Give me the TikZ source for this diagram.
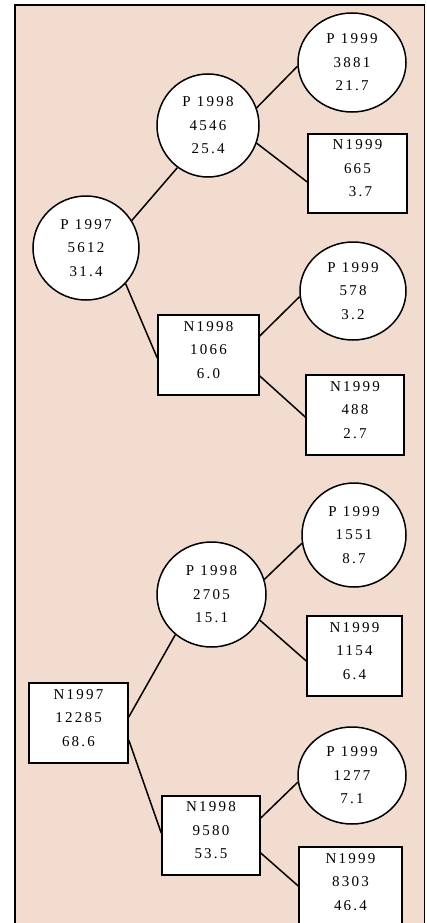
\documentclass[tikz,border=0pt]{standalone}
\usepackage{fontspec}
\setmainfont{Liberation Serif}[LetterSpace=15]
\usetikzlibrary{shapes.geometric,calc}
\definecolor{bg}{RGB}{242,219,207}
\tikzset{
  lbl/.style={font=\fontsize{15}{23.5}\selectfont, align=center, text=black, inner sep=0pt},
  oval/.style={ellipse, draw=black, line width=1.5pt, fill=white, inner sep=0pt, lbl},
  box/.style={rectangle, draw=black, line width=1.5pt, fill=white, inner sep=0pt},
  conn/.style={line width=1.5pt, draw=black}
}
\begin{document}
\begin{tikzpicture}[x=1pt,y=-1pt]
\useasboundingbox (0,0) rectangle (426,923);
\draw[fill=bg, line width=1.2pt] (15,5) rectangle (424.5,940);

% upper tree
\node[oval, minimum width=106, minimum height=104] (p97) at (86,248) {P 1997\\5612\\31.4};
\node[oval, minimum width=102, minimum height=103] (p98a) at (208,125.5) {P 1998\\4546\\25.4};
\node[oval, minimum width=108, minimum height=99] (p99a) at (352,62.5) {P 1999\\3881\\21.7};
\node[box, minimum width=99, minimum height=79] (n99a) at (357.5,173.5) {};
\node[lbl] (t99a) at ($(n99a)+(0,-5)$) {N1999\\665\\\ 3.7};
\node[box, minimum width=101, minimum height=80] (n98a) at (208.5,355) {};
\node[lbl] (t98a) at ($(n98a)+(0,-5)$) {N1998\\1066\\6.0};
\node[oval, minimum width=106, minimum height=98] (p99b) at (353,291) {P 1999\\578\\3.2};
\node[box, minimum width=98, minimum height=80] (n99b) at (355,415) {};
\node[lbl] (t99b) at ($(n99b)+(0,-5)$) {N1999\\488\\2.7};

% lower tree
\node[box, minimum width=99, minimum height=80] (n97) at (78.5,723) {};
\node[lbl] (t97) at ($(n97)+(0,-5)$) {N1997\\12285\\68.6};
\node[oval, minimum width=109, minimum height=105] (p98b) at (211.5,594.5) {P 1998\\2705\\15.1};
\node[oval, minimum width=104, minimum height=104] (p99c) at (354,535) {P 1999\\1551\\8.7};
\node[box, minimum width=95, minimum height=80] (n99c) at (354.5,656) {};
\node[lbl] (t99c) at ($(n99c)+(0,-5)$) {N1999\\1154\\6.4};
\node[box, minimum width=98, minimum height=79] (n98b) at (211,835.5) {};
\node[lbl] (t98b) at ($(n98b)+(0,-5)$) {N1998\\9580\\53.5};
\node[oval, minimum width=108, minimum height=97] (p99d) at (352,775.5) {P 1999\\1277\\7.1};
\node[box, minimum width=103, minimum height=80] (n99d) at (350.5,887) {};
\node[lbl] (t99d) at ($(n99d)+(0,-5)$) {N1999\\8303\\46.4};

% connectors
\draw[conn] (p97.31) -- (p98a.234);
\draw[conn] (p97.-42) -- ($(n98a.west)+(0,3)$);
\draw[conn] (p98a.20) -- (p99a.184);
\draw[conn] (p98a.-20) -- ($(n99a.west)+(0,8.5)$);
\draw[conn] ($(n98a.east)+(0,-19)$) -- (p99b.186);
\draw[conn] ($(n98a.east)+(0,21)$) -- ($(n99b.west)+(0,2)$);
\draw[conn] (p98b.16) -- (p99c.189);
\draw[conn] (p98b.-28) -- ($(n99c.west)+(0,5)$);
\draw[conn] ($(n97.east)+(0,-6)$) -- (p98b.228);
\draw[conn] ($(n97.east)+(0,17)$) -- ($(n98b.west)+(0,-2.5)$);
\draw[conn] ($(n98b.east)+(0,-17.5)$) -- (p99d.187);
\draw[conn] ($(n98b.east)+(0,17.5)$) -- ($(n99d.west)+(0,-1)$);
\end{tikzpicture}
\end{document}
